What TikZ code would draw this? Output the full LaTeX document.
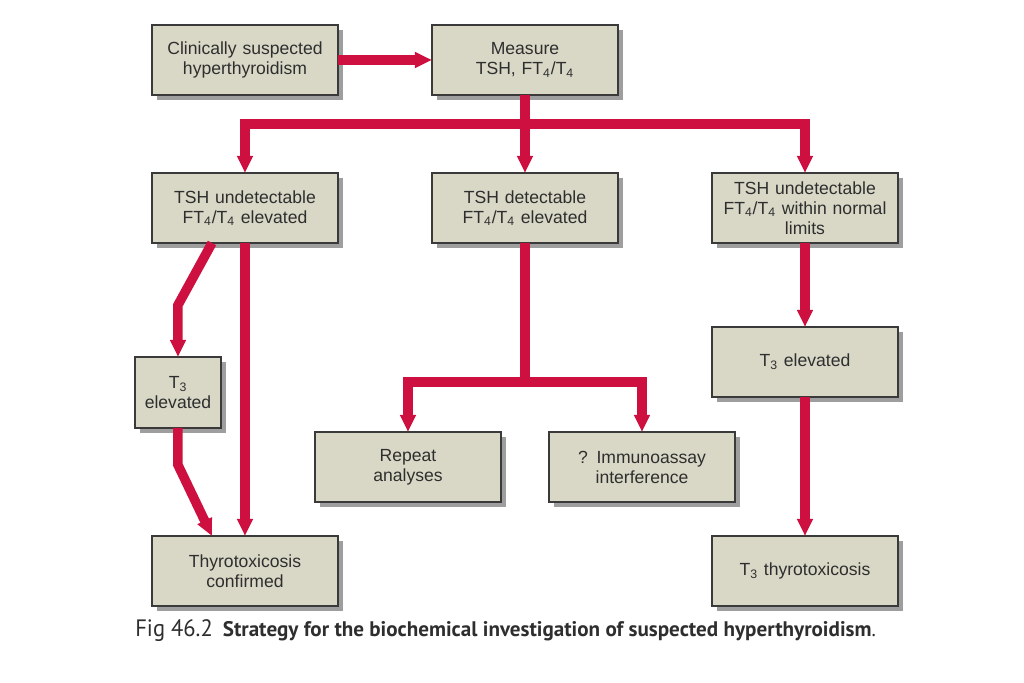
\documentclass[tikz,border=0pt]{standalone}
\usepackage{fontspec}
\setmainfont{Liberation Sans}
\newfontfamily\capfont[FakeStretch=0.95]{PT Sans}
\newfontfamily\capboldfont{PT Sans Bold}
\usepackage{xcolor}
\usetikzlibrary{positioning, calc, arrows.meta, shadows}
\definecolor{boxfill}{HTML}{D9D8C7}
\definecolor{boxline}{HTML}{3A3A3A}
\definecolor{flowred}{HTML}{CE1040}
\definecolor{inkgray}{HTML}{2E2E2E}

\begin{document}
\begin{tikzpicture}[
  box/.style={draw=boxline, line width=0.9pt, rectangle, fill=boxfill, text=inkgray,
    outer sep=0pt, inner sep=2pt,
    minimum width=3.72cm, minimum height=1.4cm, text width=3.5cm, align=center,
    font=\fontsize{10}{11.4}\selectfont,
    drop shadow={shadow xshift=0.1cm, shadow yshift=-0.1cm, opacity=1, fill=black!38}},
  smallbox/.style={box, minimum width=1.72cm, minimum height=1.42cm, text width=1.55cm},
  flow/.style={draw=flowred, line width=0.19cm, -{Triangle[width=0.3cm, length=0.34cm]}},
  trunk/.style={draw=flowred, line width=0.19cm}]
\useasboundingbox (-4.9,1.2) rectangle (15.58,-12.46);

% Top row
\node[box] (clinical) {Clinically suspected\\hyperthyroidism};
\node[box, right=1.88cm of clinical] (measure) {Measure\\TSH, FT\textsubscript{4}/T\textsubscript{4}};

% First results
\node[box, below=1.56cm of clinical] (undet) {TSH undetectable\\FT\textsubscript{4}/T\textsubscript{4} elevated};
\node[box, below=1.56cm of measure] (detectable) {TSH detectable\\FT\textsubscript{4}/T\textsubscript{4} elevated};
\node[box, right=1.88cm of detectable] (normal) {TSH undetectable\\FT\textsubscript{4}/T\textsubscript{4} within normal\\limits};

% Follow-up
\node[smallbox, below left=2.28cm and -1.38cm of undet] (t3small) {T\textsubscript{3}\\elevated};
\node[box, below left=3.78cm and -1.38cm of detectable] (repeat) {Repeat\\analyses};
\node[box, below right=3.78cm and -1.38cm of detectable] (assay) {? Immunoassay\\interference};
\node[box, below=1.68cm of normal] (t3high) {T\textsubscript{3} elevated};

% Conclusions
\node[box, below=5.86cm of undet] (confirmed) {Thyrotoxicosis\\confirmed};
\node[box, below=5.86cm of normal] (t3tox) {T\textsubscript{3} thyrotoxicosis};

% Caption
\node[anchor=base west, inner sep=0pt, text=inkgray] (caption) at ($(confirmed.south west)+(-0.34,-0.62)$)
  {{\capfont\fontsize{13.5}{13.5}\selectfont Fig 46.2}\hspace{0.2cm}{\capboldfont\fontsize{12}{12}\selectfont Strategy for the biochemical investigation of suspected hyperthyroidism}{\capfont\fontsize{12}{12}\selectfont .}};

% Connections
\coordinate[below=0.58cm of measure] (split);
\coordinate[below=2.78cm of detectable] (fork);
\draw[flow] (clinical) -- (measure);
\draw[flow] (measure) -- (detectable);
\draw[flow] (split) -| (undet);
\draw[flow] (split) -| (normal);
\draw[flow] ([xshift=-0.66cm]undet.south) -- ([yshift=1.04cm]t3small.north) -- (t3small);
\draw[flow] (undet) -- (confirmed);
\draw[flow] (t3small.south) -- ([yshift=-0.74cm]t3small.south) -- ([xshift=-0.66cm]confirmed.north);
\draw[trunk] (detectable) -- (fork);
\draw[flow] (fork) -| (repeat);
\draw[flow] (fork) -| (assay);
\draw[flow] (normal) -- (t3high);
\draw[flow] (t3high) -- (t3tox);
\end{tikzpicture}
\end{document}
